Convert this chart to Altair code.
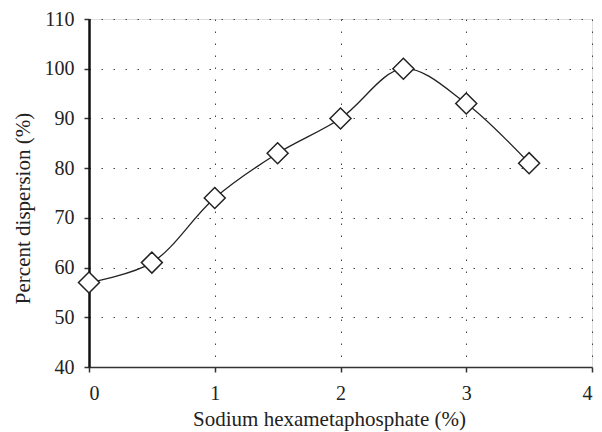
import altair as alt
import pandas as pd

x_vals = [0, 0.5, 1, 1.5, 2, 2.5, 3, 3.5]
y_vals = [57, 61, 74, 83, 90, 100, 93, 81]

df = pd.DataFrame({"x": x_vals, "y": y_vals})

FONT = "Liberation Serif"

xenc = alt.X("x:Q", scale=alt.Scale(domain=[0, 4], nice=False),
             axis=alt.Axis(title="Sodium hexametaphosphate (%)", values=[0, 1, 2, 3, 4],
                           format="d", grid=True, gridDash=[1.5, 10.5], gridColor="#444",
                           gridWidth=1, domainColor="#333", domainWidth=1.5,
                           tickColor="#333", tickSize=5, tickWidth=1.5,
                           labelFont=FONT, labelFontSize=20, labelColor="#222",
                           labelPadding=11, titleFont=FONT, titleFontSize=21,
                           titleFontWeight="normal", titleColor="#222",
                           titleX=240, titleY=58, titleBaseline="alphabetic"))
yenc = alt.Y("y:Q", scale=alt.Scale(domain=[40, 110], nice=False),
             axis=alt.Axis(title="Percent dispersion (%)", values=[40, 50, 60, 70, 80, 90, 100, 110],
                           grid=True, gridDash=[1.5, 10.5], gridColor="#444", gridWidth=1,
                           domainColor="#111", domainWidth=2.5,
                           tickColor="#333", tickSize=5, tickWidth=1.5,
                           labelFont=FONT, labelFontSize=20, labelColor="#222",
                           labelPadding=10, titleFont=FONT, titleFontSize=21,
                           titleFontWeight="normal", titleColor="#222",
                           titleX=-66, titleY=189, titleBaseline="middle", titleAngle=270))

line = alt.Chart(df).mark_line(interpolate="catmull-rom", color="#222", strokeWidth=1.3).encode(x=xenc, y=yenc)
pts = alt.Chart(df).mark_point(shape="diamond", size=440, filled=True, fill="white",
                               stroke="#222", strokeWidth=1.5, opacity=1).encode(x="x:Q", y="y:Q")

chart = (line + pts).properties(
    width=503, height=348,
    autosize=alt.AutoSizeParams(type="none"),
    padding={"left": 81, "top": 11, "right": 2, "bottom": 64},
).configure_view(stroke="#333", strokeWidth=1.5).configure(background="white")

chart.save("out.html", embed_options={"renderer": "svg", "actions": False})
